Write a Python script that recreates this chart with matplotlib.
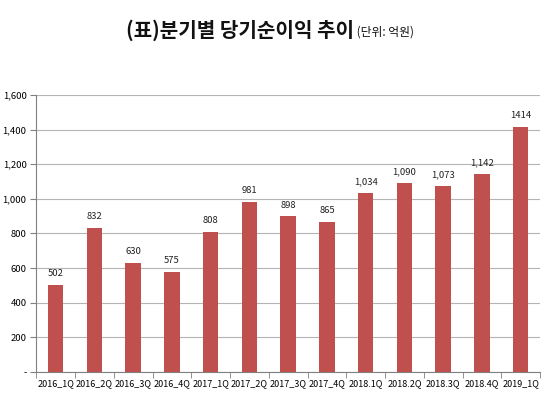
import matplotlib
matplotlib.use("Agg")
from matplotlib import pyplot as plt
import numpy as np

plt.rcParams['font.family'] = ['Noto Sans CJK KR', 'DejaVu Sans']

# 분기별 당기순이익 (억원)
quarters = ["2016_1Q", "2016_2Q", "2016_3Q", "2016_4Q", "2017_1Q", "2017_2Q",
            "2017_3Q", "2017_4Q", "2018.1Q", "2018.2Q", "2018.3Q", "2018.4Q", "2019_1Q"]
profit = [502, 832, 630, 575, 808, 981, 898, 865, 1034, 1090, 1073, 1142, 1414]
bar_labels = ["502", "832", "630", "575", "808", "981", "898", "865",
              "1,034", "1,090", "1,073", "1,142", "1414"]
y_ticks = [0, 200, 400, 600, 800, 1000, 1200, 1400, 1600]
y_tick_labels = ["-", "200", "400", "600", "800", "1,000", "1,200", "1,400", "1,600"]

fig = plt.figure(figsize=(5.5, 3.97), dpi=100)
ax = fig.add_axes([0.066, 0.063, 0.916, 0.698])

x = np.arange(len(quarters))
ax.bar(x, profit, width=0.4, color="#C0504D", zorder=3)
for xi, v, lab in zip(x, profit, bar_labels):
    ax.text(xi, v + 40, lab, ha="center", va="bottom", fontsize=6.8, color="#222222")

ax.set_xlim(-0.5, len(quarters) - 0.5)
ax.set_ylim(0, 1600)
ax.set_yticks(y_ticks)
ax.set_yticklabels(y_tick_labels, fontsize=6.8)
ax.yaxis.grid(True, color="#B4B4B4", linewidth=0.8, zorder=0)
ax.set_xticks(x)
ax.set_xticklabels(quarters, fontsize=6.5)
ax.tick_params(axis="x", length=0, pad=5)
ax.set_xticks(np.arange(-0.5, len(quarters), 1), minor=True)
ax.tick_params(axis="x", which="minor", length=4, color="#808080")
ax.tick_params(axis="y", length=4, color="#808080", pad=3)
for s in ["top", "right"]:
    ax.spines[s].set_visible(False)
ax.spines["left"].set_color("#808080")
ax.spines["bottom"].set_color("#808080")

fig.text(0.643, 0.924, "(표)분기별 당기순이익 추이", ha="right", va="center",
         fontsize=14.5, fontweight="bold", color="#111111")
fig.text(0.643, 0.92, " (단위: 억원)", ha="left", va="center",
         fontsize=8.5, color="#111111")

fig.savefig("out.png", dpi=100)
